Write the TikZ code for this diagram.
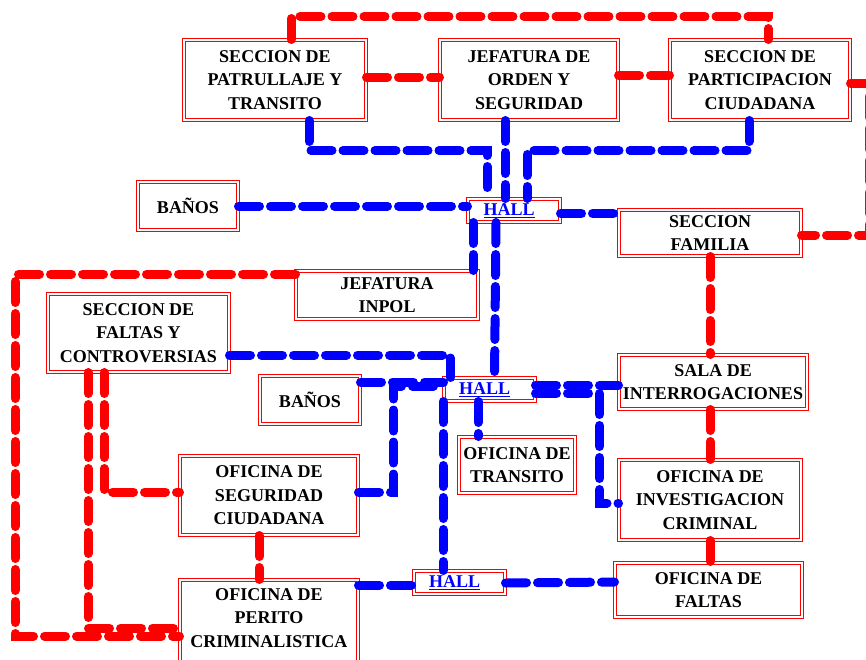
\documentclass[tikz,border=0pt]{standalone}
\usepackage{fontspec}
\setmainfont{Liberation Serif}
\newcommand\bxfont{\bfseries\fontsize{18}{23.5}\selectfont}
\begin{document}
\begin{tikzpicture}[x=1pt,y=-1pt,
  box/.style={draw=red, line width=0.6pt, double=white, double distance=2.4pt, inner sep=0pt, align=center, font=\bxfont},
  hallbox/.style={box, text=blue},
  rl/.style={draw=red, line width=9pt, line cap=round, dash pattern=on 21pt off 11pt},
  bl/.style={rl, draw=blue}]
\useasboundingbox (0,0) rectangle (866,659);
\fill[white] (0,0) rectangle (866,659);

% nodes
\node[box, minimum width=182.4pt, minimum height=80.4pt] (p1) at (275,80) {SECCION DE\\PATRULLAJE Y\\TRANSITO};
\node[box, minimum width=178.4pt, minimum height=80.4pt] (jo) at (529,80) {JEFATURA DE\\ORDEN Y\\SEGURIDAD};
\node[box, minimum width=180.4pt, minimum height=80.4pt] (pc) at (760,80) {SECCION DE\\PARTICIPACION\\CIUDADANA};
\node[box, minimum width=100.4pt, minimum height=48.4pt] (ban1) at (188,206) {BAÑOS};
\node[hallbox, minimum width=92.4pt, minimum height=23.4pt] (hall1) at (514,210.5) {\underline{HALL}\hspace*{10pt}};
\node[box, minimum width=182.4pt, minimum height=46.4pt] (fam) at (710,233) {SECCION\\FAMILIA};
\node[box, minimum width=182.4pt, minimum height=48.4pt] (inpol) at (387,295) {JEFATURA\\INPOL};
\node[box, minimum width=181.4pt, minimum height=78.4pt] (fc) at (138.5,333) {SECCION DE\\FALTAS Y\\CONTROVERSIAS};
\node[box, minimum width=100.4pt, minimum height=48.4pt] (ban2) at (310,400) {BAÑOS};
\node[hallbox, minimum width=91.4pt, minimum height=23.4pt] (hall2) at (489.5,389.5) {\underline{HALL}\hspace*{10pt}};
\node[box, minimum width=116.4pt, minimum height=56.4pt] (tra) at (517,465) {OFICINA DE\\TRANSITO};
\node[box, minimum width=188.4pt, minimum height=54.4pt] (sala) at (713,382) {SALA DE\\INTERROGACIONES};
\node[box, minimum width=182.4pt, minimum height=80.4pt] (inv) at (710,500) {OFICINA DE\\INVESTIGACION\\CRIMINAL};
\node[box, minimum width=187.4pt, minimum height=54.4pt] (fal) at (708.5,590) {OFICINA DE\\FALTAS};
\node[box, minimum width=178.4pt, minimum height=79.4pt] (seg) at (269,495.5) {OFICINA DE\\SEGURIDAD\\CIUDADANA};
\node[box, minimum width=178.4pt, minimum height=88.4pt] (per) at (269,624) {};
\node[font=\bxfont, align=center, inner sep=0pt] (pert) at (269,618) {OFICINA DE\\PERITO\\CRIMINALISTICA};
\node[hallbox, minimum width=91.4pt, minimum height=23.4pt] (hall3) at (459.5,582.5) {\underline{HALL}\hspace*{10pt}};

% red connectors
\draw[rl] ([xshift=16pt]p1.north) -- ++(0,-23) -| ([xshift=8pt]pc.north);
\draw[rl] ([yshift=3pt]p1.east) -- ([yshift=3pt]jo.west);
\draw[rl] ([yshift=5pt]jo.east) -- ([yshift=5pt]pc.west);
\draw[rl] ([yshift=-3pt]pc.east) -- (869,83) -- (869,235) -- ([yshift=-2pt]fam.east);
\draw[rl] (fam.south) -- (fam.south |- sala.north);
\draw[rl] ([xshift=-3pt]sala.south) -- (inv.north);
\draw[rl] (inv.south) -- (inv.south |- fal.north);
\draw[rl] ([yshift=21pt]inpol.west) -| (15,450) |- ([yshift=-12pt]per.west);
\draw[rl] ([xshift=-34.5pt]fc.south) |- ([yshift=3.5pt]seg.west);
\draw[rl] ([xshift=-50.5pt]fc.south) |- ([yshift=-4pt]per.west);
\draw[rl] ([xshift=-10pt]seg.south) -- ([xshift=-10pt]per.north);

% blue connectors
\draw[bl] ([xshift=34pt]p1.south) -- ++(0,30) -| ([xshift=-27pt]hall1.north);
\draw[bl] ([xshift=-24pt]jo.south) -- ([xshift=-9pt]hall1.north);
\draw[bl] ([xshift=-11pt]pc.south) -- ++(0,30) -| ([xshift=13pt]hall1.north);
\draw[bl] (ban1.east) -- (ban1.east -| hall1.west);
\draw[bl] ([yshift=-3pt]hall1.east) -- ++(59,0);
\draw[bl] ([xshift=-41pt]hall1.south) -- ([xshift=86pt]inpol.north);
\draw[bl] ([xshift=-18pt]hall1.south) -- ([xshift=5pt]hall2.north);
\draw[bl] ([yshift=-22pt]fc.east) -| ([xshift=-39pt]hall2.north);
\draw[bl] ([yshift=18pt]ban2.east) -- ([yshift=7.5pt]hall2.west);
\draw[bl] ([yshift=3.5pt]seg.east) -- ++(35,0) |- ([yshift=3.5pt]hall2.west);
\draw[bl] ([xshift=-46.5pt]hall2.south) -- ([xshift=-16.5pt]hall3.north);
\draw[bl] ([xshift=-11.5pt]hall2.south) -- ([xshift=-39pt]tra.north);
\draw[bl] ([yshift=4.5pt]hall2.east) -- ([yshift=-3pt]sala.west);
\draw[bl] ([yshift=-4pt]hall2.east) -- ++(64,0) |- ([yshift=-3pt]inv.west);
\draw[bl] ([yshift=39pt]per.east) -- ([yshift=-2.5pt]hall3.west);
\draw[bl] ([yshift=-0.5pt]hall3.east) -- ([yshift=8pt]fal.west);
\end{tikzpicture}
\end{document}
